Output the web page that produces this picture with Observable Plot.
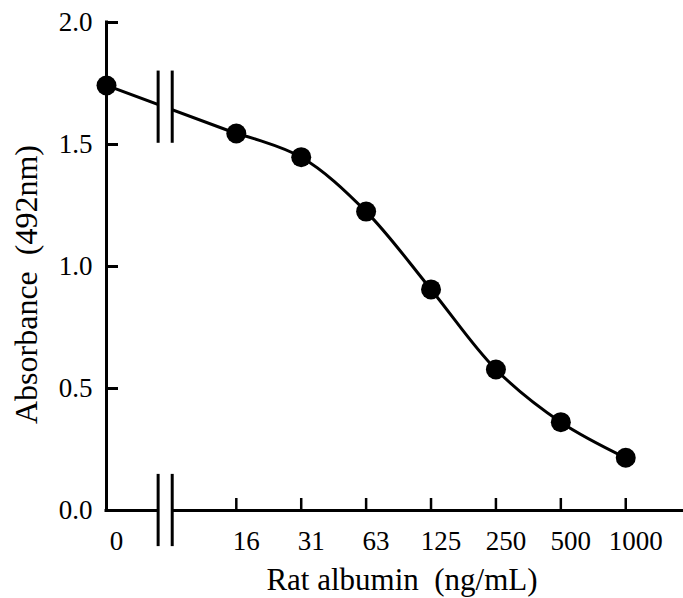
<!DOCTYPE html>
<html>
<head>
<meta charset="utf-8">
<script src="https://cdn.jsdelivr.net/npm/d3@7"></script>
<script src="https://cdn.jsdelivr.net/npm/@observablehq/plot@0.6"></script>
<style>
  html, body { margin: 0; padding: 0; background: #fff; }
  svg, svg text { font-family: "Liberation Serif", "DejaVu Serif", serif !important; }
</style>
</head>
<body>
<div id="chart"></div>
<script>
// ---- data ----
const doseLabels = ["0", "16", "31", "63", "125", "250", "500", "1000"];
const doses = [0, 15.625, 31.25, 62.5, 125, 250, 500, 1000];          // ng/mL (two-fold dilutions)
const absorbance = [1.742, 1.545, 1.448, 1.225, 0.906, 0.578, 0.362, 0.216]; // A492
const yTicks = [0.0, 0.5, 1.0, 1.5, 2.0];
const zeroDoseDrawnAt = 3.90625;      // the 0 dose sits two dilution steps left of 16 (broken axis)
const axisBreakDoses = [6.78, 7.88];  // the two strokes of the "//" axis break
const xTitle = "Rat albumin\u00a0\u00a0(ng/mL)";
const yTitle = "Absorbance\u00a0\u00a0(492nm)";

// ---- layout ----
const W = 683, H = 598;
const mL = 106, mR = 0, mT = 22, mB = 88;
const frameW = W - mL - mR, frameH = H - mT - mB;
const serif = "Liberation Serif";

const pos = d => Math.log2(d === 0 ? zeroDoseDrawnAt : d);
const data = doses.map((d, i) => ({dose: d, label: doseLabels[i], x: pos(d), y: absorbance[i]}));
const xMin = pos(0);
const xMax = xMin + 8.89;
const breakX = axisBreakDoses.map(Math.log2);
const breakMid = (breakX[0] + breakX[1]) / 2;
// curve height at the break (straight segment between first two points)
const tBreak = (breakMid - data[0].x) / (data[1].x - data[0].x);
const yAtBreak = data[0].y + (data[1].y - data[0].y) * tBreak;
const half = 0.148;

const chart = Plot.plot({
  width: W,
  height: H,
  marginLeft: mL,
  marginRight: mR,
  marginTop: mT,
  marginBottom: mB,
  style: {fontFamily: serif, background: "#fff", color: "#000"},
  x: {type: "linear", domain: [xMin, xMax], axis: null},
  y: {type: "linear", domain: [0, 2], axis: null},
  marks: [
    // x axis line
    Plot.ruleY([0], {x1: xMin, x2: xMax, stroke: "#000", strokeWidth: 3, strokeLinecap: "square"}),
    // y axis line
    Plot.ruleX([xMin], {y1: 0, y2: 2, stroke: "#000", strokeWidth: 3, strokeLinecap: "square"}),
    // inward y ticks
    Plot.tickY(yTicks.filter(v => v > 0), {y: d => d, stroke: "#000", strokeWidth: 3, insetRight: frameW - 12}),
    // inward x ticks
    Plot.tickX(data.filter(d => d.dose > 0), {x: "x", stroke: "#000", strokeWidth: 2.5, insetTop: frameH - 12}),
    // y tick labels
    Plot.text(yTicks, {frameAnchor: "left", y: d => d, text: d => d3.format(".1f")(d), textAnchor: "end", lineAnchor: "middle", dx: -14, fontSize: 27, fontFamily: serif, fill: "#000"}),
    // x tick labels
    Plot.text(data, {x: "x", y: () => 0, text: "label", lineAnchor: "middle", dy: 31, dx: 10, fontSize: 27, fontFamily: serif, fill: "#000"}),
    // curve: straight from 0 to 16, smooth thereafter
    Plot.line(data.slice(0, 2), {x: "x", y: "y", stroke: "#000", strokeWidth: 3}),
    Plot.line(data.slice(1), {x: "x", y: "y", curve: "catmull-rom", stroke: "#000", strokeWidth: 3}),
    // gap of the axis break
    Plot.rect([breakX], {x1: d => d[0], x2: d => d[1], y1: () => -0.1, y2: () => 2, fill: "#fff"}),
    // break strokes
    Plot.ruleX(breakX, {y1: -half, y2: half, stroke: "#000", strokeWidth: 3}),
    Plot.ruleX(breakX, {y1: yAtBreak - half, y2: yAtBreak + half, stroke: "#000", strokeWidth: 3}),
    // data points
    Plot.dot(data, {x: "x", y: "y", r: 10, fill: "#000", stroke: "none"}),
    // axis titles
    Plot.text([xTitle], {frameAnchor: "bottom", text: d => d, textAnchor: "middle", lineAnchor: "middle", dy: 70, dx: 7, fontSize: 31, fontFamily: serif, fill: "#000"}),
    Plot.text([yTitle], {frameAnchor: "left", text: d => d, rotate: -90, textAnchor: "middle", lineAnchor: "middle", dx: -80, dy: 18, fontSize: 32, fontFamily: serif, fill: "#000"})
  ]
});

document.getElementById("chart").appendChild(chart);
</script>
</body>
</html>
